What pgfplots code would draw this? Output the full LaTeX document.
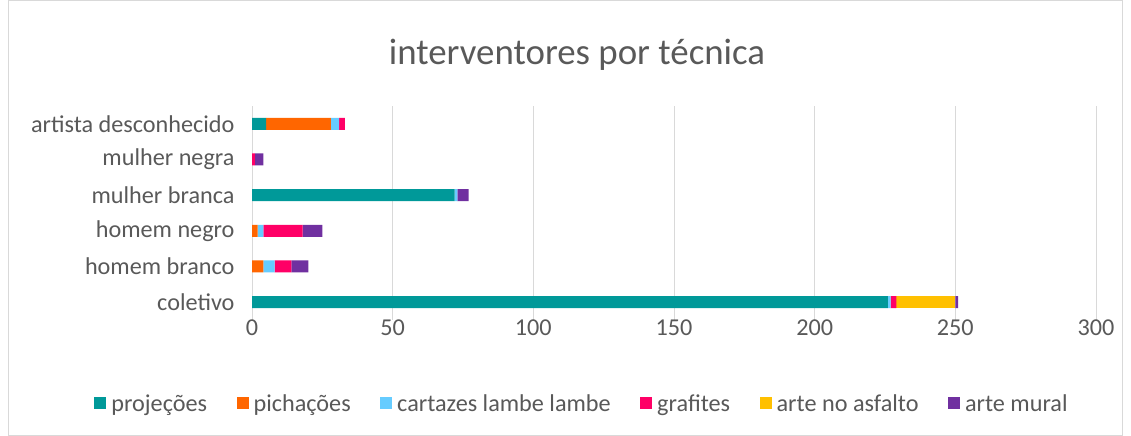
\documentclass[border=0pt]{standalone}
\usepackage{pgfplots}
\pgfplotsset{compat=1.18}
\usepackage{fontspec}
\setmainfont{Carlito}
\definecolor{txt}{HTML}{595959}
\definecolor{grid}{HTML}{D9D9D9}
\definecolor{cproj}{HTML}{009999}
\definecolor{cpich}{HTML}{FF6600}
\definecolor{ccart}{HTML}{66CCFF}
\definecolor{cgraf}{HTML}{FF0066}
\definecolor{casf}{HTML}{FFC000}
\definecolor{cmur}{HTML}{7030A0}
% order: coletivo, homem branco, homem negro, mulher branca, mulher negra, artista desconhecido
\begin{document}
\begin{tikzpicture}[x=1bp,y=1bp]
\useasboundingbox (0,0) rectangle (1131,436);
\draw[grid, line width=0.8bp] (8,0.5) rectangle (1122,435.5);
\node[txt, font=\fontsize{37}{44}\selectfont] at (577,381) {interventores por técnica};
\begin{axis}[
  at={(252bp,116bp)}, anchor=south west,
  scale only axis, width=844bp, height=214bp,
  xbar stacked, bar width=12bp,
  xmin=0, xmax=300, ymin=-0.5, ymax=5.5,
  xtick={0,50,...,300},
  ytick={0,...,5},
  yticklabels={coletivo,homem branco,homem negro,mulher branca,mulher negra,artista desconhecido},
  axis line style={draw=none},
  tick style={draw=none},
  xmajorgrids, ymajorgrids=false, yminorgrids=false,
  x grid style={grid, line width=1bp},
  ticklabel style={font=\fontsize{24.3}{28}\selectfont, txt},
  /pgf/number format/assume math mode=true,
  xticklabel style={yshift=4bp},
  yticklabel style={xshift=-14bp},
  legend columns=6,
  legend style={draw=none, at={(0.391,-0.39)}, anchor=center,
    font=\fontsize{24.3}{28}\selectfont, text=txt,
    /tikz/every even column/.append style={column sep=27.5bp}},
  legend image code/.code={\fill[#1] (0bp,-6bp) rectangle (12bp,6bp); \path (15bp,0bp);},
  every axis plot/.append style={draw=none},
]
\addplot[fill=cproj] coordinates {(226,0) (0,1) (0,2) (72,3) (0,4) (5,5)};
\addplot[fill=cpich] coordinates {(0,0) (4,1) (2,2) (0,3) (0,4) (23,5)};
\addplot[fill=ccart] coordinates {(1,0) (4,1) (2,2) (1,3) (0,4) (3,5)};
\addplot[fill=cgraf] coordinates {(2,0) (6,1) (14,2) (0,3) (1,4) (2,5)};
\addplot[fill=casf] coordinates {(21,0) (0,1) (0,2) (0,3) (0,4) (0,5)};
\addplot[fill=cmur] coordinates {(1,0) (6,1) (7,2) (4,3) (3,4) (0,5)};
\legend{projeções,pichações,cartazes lambe lambe,grafites,arte no asfalto,arte mural}
\end{axis}
\end{tikzpicture}
\end{document}
